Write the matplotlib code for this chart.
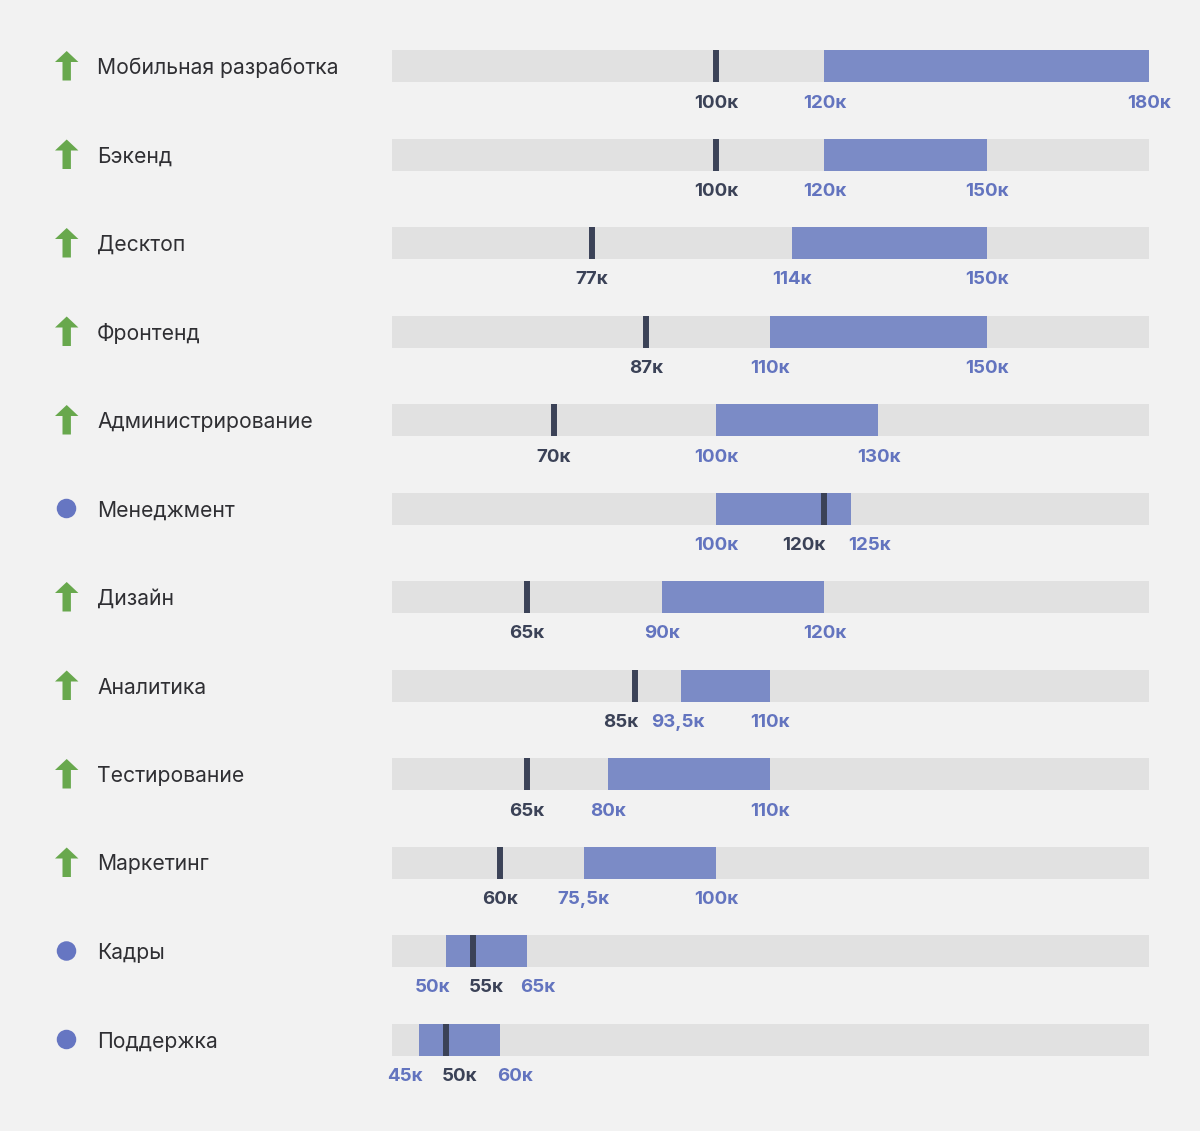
import matplotlib
matplotlib.use("Agg")
import matplotlib.pyplot as plt
from matplotlib.patches import Polygon, Ellipse

categories = ["Мобильная разработка", "Бэкенд", "Десктоп", "Фронтенд",
              "Администрирование", "Менеджмент", "Дизайн", "Аналитика",
              "Тестирование", "Маркетинг", "Кадры", "Поддержка"]
median = [100, 100, 77, 87, 70, 120, 65, 85, 65, 60, 55, 50]
low = [120, 120, 114, 110, 100, 100, 90, 93.5, 80, 75.5, 50, 45]
high = [180, 150, 150, 150, 130, 125, 120, 110, 110, 100, 65, 60]
trend = ["up", "up", "up", "up", "up", "flat", "up", "up", "up", "up", "flat", "flat"]
# label nudges in pixels (median, low, high) to avoid overlaps
nudge = [(0, 0, 0), (0, 0, 0), (0, 0, 0), (0, 0, 0), (0, 0, 0), (-21, 0, 18),
         (0, 0, 0), (-14, -3, 0), (0, 0, 0), (0, 0, 0), (14, -13, 11), (14, -14, 15)]

BG = "#f2f2f2"
TRACK = "#e1e1e1"
BLUE = "#7b8bc6"
BLUE_TXT = "#6374bf"
DARK = "#3b4257"
GREEN = "#68a84d"
DOT = "#6676c2"

W, H = 1200, 1131
fig = plt.figure(figsize=(W / 100, H / 100), dpi=100, facecolor=BG)

ROW = 88.5
y0 = 66
ytop = -y0 / ROW
ybot = (H - y0) / ROW

# icons and category text axes (x in pixels, y in row units)
axl = fig.add_axes([0, 0, 1, 1])
axl.set_xlim(0, W)
axl.set_ylim(ybot, ytop)
axl.axis("off")

# bars axes
XMIN, XMAX = 40.1, 180.0
x_left, x_right = 392, 1149
ax = fig.add_axes([x_left / W, 0, (x_right - x_left) / W, 1])
ax.set_xlim(XMIN, XMAX)
ax.set_ylim(ybot, ytop)
ax.axis("off")
ax.patch.set_alpha(0)

bh = 32 / ROW
px = 1 / ROW

font = "Inter"

def fmt(v):
    s = ("%g" % v).replace(".", ",")
    return s + "к"

for i, cat in enumerate(categories):
    # icon
    cx = 66.7
    if trend[i] == "up":
        top = i - 15 * px
        bot = i + 14.5 * px
        hb = i - 4 * px
        pts = [(cx, top), (cx + 11.7, hb), (cx + 4.2, hb), (cx + 4.2, bot),
               (cx - 4.2, bot), (cx - 4.2, hb), (cx - 11.7, hb)]
        axl.add_patch(Polygon(pts, closed=True, color=GREEN, lw=0))
    else:
        axl.add_patch(Ellipse((66.5, i), 19.5, 19.5 * px, color=DOT, lw=0))
    axl.text(97, i + 2 * px, cat, fontsize=15.2, color="#2f2f33", va="center", ha="left",
             family=[font, "DejaVu Sans"])

    # track
    ax.barh(i, XMAX - XMIN, left=XMIN, height=bh, color=TRACK, lw=0)
    # range
    ax.barh(i, high[i] - low[i], left=low[i], height=bh, color=BLUE, lw=0)
    # median marker
    ax.plot([median[i], median[i]], [i - bh / 2, i + bh / 2], color=DARK,
            lw=4.3, solid_capstyle="butt")

    ly = i + 37 * px
    nm, nl, nh = nudge[i]
    for v, col, dx in ((median[i], DARK, nm), (low[i], BLUE_TXT, nl), (high[i], BLUE_TXT, nh)):
        ax.annotate(fmt(v), (v, ly), xytext=(dx * 0.72, 0), textcoords="offset points",
                    ha="center", va="center", fontsize=13.5, fontweight="bold",
                    color=col, family=[font, "DejaVu Sans"], annotation_clip=False)

fig.savefig("out.png", dpi=100, facecolor=BG)
